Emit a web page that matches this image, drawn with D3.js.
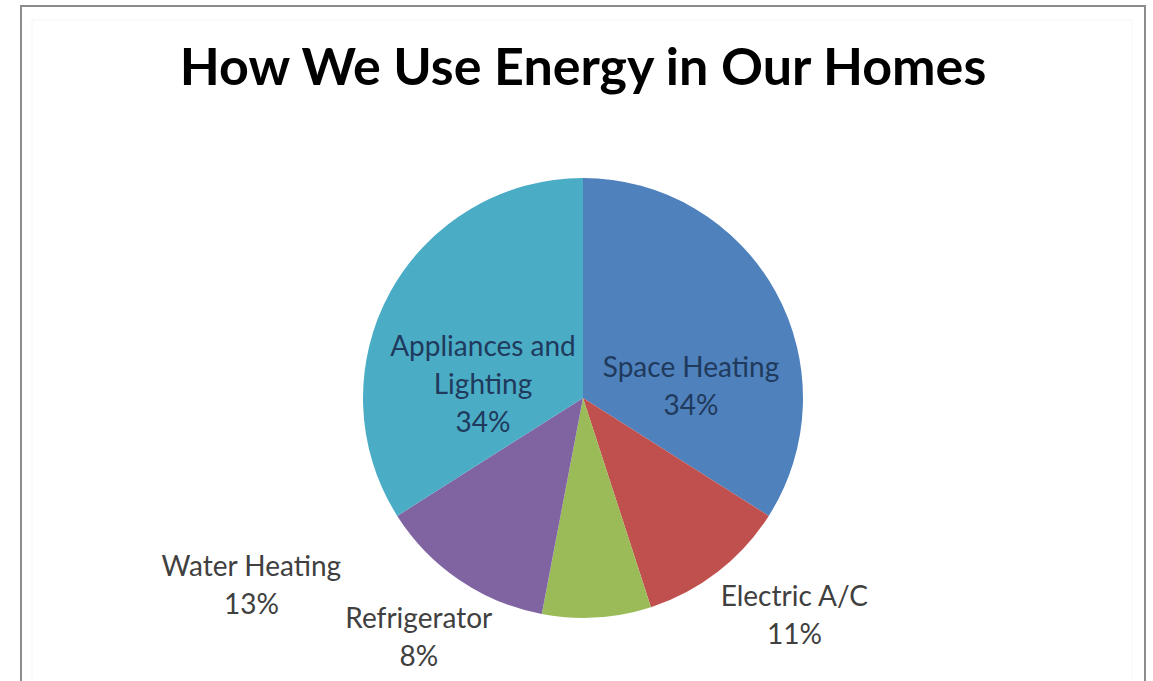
<!DOCTYPE html>
<html>
<head>
<meta charset="utf-8">
<script src="https://cdn.jsdelivr.net/npm/d3@7/dist/d3.min.js"></script>
<style>
  html, body { margin: 0; padding: 0; background: #ffffff; }
  svg { display: block; }
</style>
</head>
<body>
<svg id="chart" width="1153" height="681"></svg>
<script>
// Household energy use shares
const categories = ["Space Heating", "Electric A/C", "Refrigerator", "Water Heating", "Appliances and Lighting"];
const shares = [34, 11, 8, 13, 34];
const sliceColors = ["#4F81BD", "#C0504D", "#9BBB59", "#8064A2", "#4BACC6"];
const labelLines = [
  ["Space Heating"],
  ["Electric A/C"],
  ["Refrigerator"],
  ["Water Heating"],
  ["Appliances and", "Lighting"]
];
const titleText = "How We Use Energy in Our Homes";

// Label placement (angle in degrees clockwise from top, radius as fraction of pie radius)
const labelAngle = [83.7, 135.8, 214.5, 240.5, 278];
const labelRadius = [0.494, 1.378, 1.318, 1.732, 0.459];
const labelInside = [true, false, false, false, true];

const W = 1153, H = 681;
const cx = 583, cy = 398, R = 220;

const svg = d3.select("#chart");

// Chart frame
svg.append("rect")
  .attr("x", 21).attr("y", 6)
  .attr("width", 1124).attr("height", 700)
  .attr("fill", "#ffffff")
  .attr("stroke", "#8c8c8c")
  .attr("stroke-width", 2);

svg.append("rect")
  .attr("x", 32).attr("y", 20)
  .attr("width", 1100).attr("height", 700)
  .attr("fill", "none")
  .attr("stroke", "#f6f6f6")
  .attr("stroke-width", 1);

// Title
svg.append("text")
  .attr("x", cx).attr("y", 85)
  .attr("text-anchor", "middle")
  .attr("font-family", "Lato, 'Open Sans', sans-serif")
  .attr("font-weight", "bold")
  .attr("font-size", 52)
  .attr("fill", "#000000")
  .text(titleText);

const data = categories.map((c, i) => ({ name: c, value: shares[i], color: sliceColors[i], i }));

const pie = d3.pie().value(d => d.value).sort(null);
const arc = d3.arc().innerRadius(0).outerRadius(R);

const g = svg.append("g").attr("transform", `translate(${cx},${cy})`);

g.selectAll("path.slice")
  .data(pie(data))
  .join("path")
  .attr("class", "slice")
  .attr("d", arc)
  .attr("fill", d => d.data.color)
  .attr("stroke", "none");

// Data labels: name lines followed by percentage
const lineH = 38;
const labels = g.selectAll("g.label")
  .data(pie(data))
  .join("g")
  .attr("class", "label")
  .attr("transform", d => {
    const i = d.data.i;
    const a = labelAngle[i] * Math.PI / 180;
    const r = labelRadius[i] * R;
    return `translate(${r * Math.sin(a)},${-r * Math.cos(a)})`;
  });

labels.each(function(d) {
  const i = d.data.i;
  const lines = labelLines[i].concat([d3.format(".0f")(d.data.value) + "%"]);
  const n = lines.length;
  const t = d3.select(this).append("text")
    .attr("text-anchor", "middle")
    .attr("font-family", "Lato, 'Open Sans', sans-serif")
    .attr("font-size", 28)
    .attr("fill", labelInside[i] ? "#1f3a5c" : "#404040");
  lines.forEach((ln, k) => {
    t.append("tspan")
      .attr("x", 0)
      .attr("y", (k - (n - 1) / 2) * lineH)
      .attr("dy", "0.35em")
      .text(ln);
  });
});
</script>
</body>
</html>
